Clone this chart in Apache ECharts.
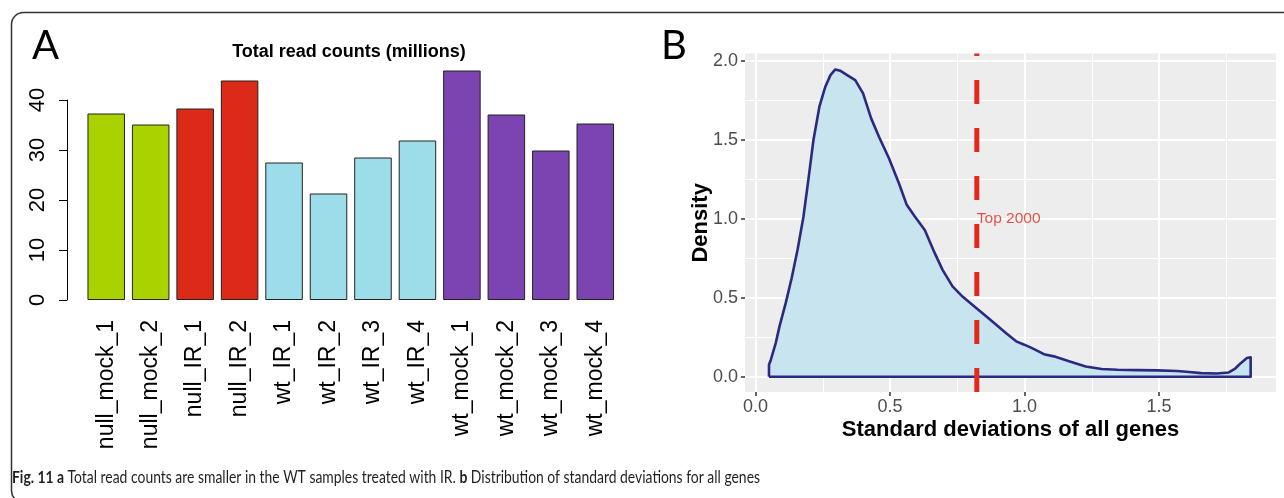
<!DOCTYPE html>
<html><head><meta charset="utf-8">
<script src="https://cdn.jsdelivr.net/npm/echarts@6/dist/echarts.min.js"></script>
<style>html,body{margin:0;padding:0;background:#fff}#c{width:1284px;height:498px}</style>
</head><body><div id="c"></div>
<script>
// ---------- Panel A data ----------
const sampleNames = ['null_mock_1','null_mock_2','null_IR_1','null_IR_2','wt_IR_1','wt_IR_2','wt_IR_3','wt_IR_4','wt_mock_1','wt_mock_2','wt_mock_3','wt_mock_4'];
const readCounts = [37.3, 35.1, 38.3, 43.9, 27.5, 21.3, 28.5, 31.9, 45.9, 37.1, 29.9, 35.3];
const sampleGroups = ['null_mock','null_mock','null_IR','null_IR','wt_IR','wt_IR','wt_IR','wt_IR','wt_mock','wt_mock','wt_mock','wt_mock'];
const groupColors = {null_mock:'#AAD200', null_IR:'#DD2A18', wt_IR:'#9CDDE9', wt_mock:'#7B44B0'};
const countTicks = [0, 10, 20, 30, 40];
const panelATitle = 'Total read counts (millions)';

// ---------- Panel B data ----------
const densityX = [0.049,0.049,0.056,0.074,0.088,0.111,0.133,0.155,0.177,0.195,0.214,0.236,0.258,0.277,0.295,0.313,0.339,0.369,0.398,0.428,0.457,0.494,0.531,0.560,0.590,0.627,0.664,0.693,0.730,0.767,0.811,0.848,0.892,0.929,0.966,0.996,1.025,1.069,1.106,1.165,1.224,1.283,1.342,1.416,1.490,1.563,1.608,1.652,1.711,1.755,1.777,1.799,1.822,1.836,1.836];
const densityY = [0,0.076,0.108,0.213,0.319,0.466,0.624,0.804,1.015,1.247,1.500,1.711,1.838,1.911,1.947,1.939,1.911,1.880,1.795,1.637,1.521,1.384,1.226,1.089,1.015,0.930,0.783,0.677,0.572,0.508,0.445,0.392,0.329,0.276,0.224,0.203,0.181,0.143,0.129,0.097,0.065,0.049,0.044,0.042,0.040,0.036,0.030,0.023,0.020,0.027,0.049,0.086,0.118,0.123,0];
const cutoffSD = 0.82;
const cutoffLabel = 'Top 2000';
const cutoffLabelY = 1.0;
const sdTicks = [0, 0.5, 1.0, 1.5];
const densityTicks = [0, 0.5, 1.0, 1.5, 2.0];
const xTitleB = 'Standard deviations of all genes';
const yTitleB = 'Density';
const captionBold1 = 'Fig. 11 a';
const captionText1 = ' Total read counts are smaller in the WT samples treated with IR. ';
const captionBold2 = 'b';
const captionText2 = ' Distribution of standard deviations for all genes';

// ---------- derived ----------
const densityPoints = densityX.map((x, i) => [x, densityY[i]]);
densityPoints.push([densityX[0], 0]); // close outline along baseline
const xMinB = -0.04, xMaxB = 1.93, yMinB = -0.0975, yMaxB = 2.0475;
const tickStepB = sdTicks[1] - sdTicks[0];

const FONT = '"Liberation Sans", Arial, sans-serif';
const CAPFONT = 'Lato, sans-serif';
const capSize = 17;
// condense the caption horizontally (the original uses a condensed face)
const cv = document.createElement('canvas').getContext('2d');
cv.font = 'bold ' + capSize + 'px Lato, sans-serif';
const wBold = cv.measureText(captionBold1 + captionBold2).width;
cv.font = capSize + 'px Lato, sans-serif';
const wReg = cv.measureText(captionText1 + captionText2).width;
const capScaleX = Math.min(1, 748 / (wBold + wReg));

const chart = echarts.init(document.getElementById('c'), null, {renderer: 'canvas'});

const option = {
  backgroundColor: '#ffffff',
  animation: false,
  grid: [
    {left: 84, top: 50, width: 533.5, height: 250, outerBoundsMode: 'none'},                 // 0 bars
    {left: 67, top: 100, width: 10, height: 200, outerBoundsMode: 'none'},                   // 1 bar y axis
    {left: 745, top: 53.6, width: 531, height: 338.5, show: true, backgroundColor: '#EDEDED', borderWidth: 0, outerBoundsMode: 'none'}, // 2 density panel
    {left: 745, top: 61.1, width: 531, height: 315.6, outerBoundsMode: 'none'},              // 3 y ticks
    {left: 755.5, top: 53.6, width: 538, height: 338.5, outerBoundsMode: 'none'}             // 4 x ticks
  ],
  xAxis: [
    {gridIndex: 0, type: 'category', data: sampleNames,
     axisLine: {show: false}, axisTick: {show: false},
     axisLabel: {interval: 0, rotate: 90, fontSize: 23, color: '#000', fontFamily: FONT, margin: 20}},
    {gridIndex: 1, type: 'value', show: false},
    {gridIndex: 2, type: 'value', min: xMinB, max: xMaxB, show: true,
     axisLine: {show: false}, axisTick: {show: false}, axisLabel: {show: false}, splitLine: {show: false},
     name: xTitleB, nameLocation: 'middle', nameGap: 27,
     nameTextStyle: {fontSize: 22, fontWeight: 'bold', color: '#000', fontFamily: FONT}},
    {gridIndex: 3, type: 'value', show: false, min: 0, max: 1},
    {gridIndex: 4, type: 'value', min: 0, max: 2, interval: tickStepB,
     axisLine: {show: false},
     axisTick: {show: true, length: 4, lineStyle: {color: '#333', width: 1.5}},
     axisLabel: {fontSize: 18, color: '#4D4D4D', fontFamily: FONT, margin: 6,
       formatter: v => (sdTicks.indexOf(v) >= 0 ? v.toFixed(1) : '')},
     splitLine: {show: true, lineStyle: {color: '#FFFFFF', width: 2.2}},
     minorTick: {show: false, splitNumber: 2},
     minorSplitLine: {show: true, lineStyle: {color: '#FFFFFF', width: 1.1}}}
  ],
  yAxis: [
    {gridIndex: 0, type: 'value', min: 0, max: 50, show: false},
    {gridIndex: 1, type: 'value', min: countTicks[0], max: countTicks[countTicks.length - 1], interval: countTicks[1] - countTicks[0],
     axisLine: {show: true, lineStyle: {color: '#000', width: 1}},
     axisTick: {show: true, length: 8, lineStyle: {color: '#000', width: 1}},
     axisLabel: {rotate: 90, fontSize: 22, color: '#000', fontFamily: FONT, margin: 18},
     splitLine: {show: false}},
    {gridIndex: 2, type: 'value', min: yMinB, max: yMaxB, show: true,
     axisLine: {show: false}, axisTick: {show: false}, axisLabel: {show: false}, splitLine: {show: false},
     name: yTitleB, nameLocation: 'middle', nameGap: 33, nameRotate: 90,
     nameTextStyle: {fontSize: 22, fontWeight: 'bold', color: '#000', fontFamily: FONT}},
    {gridIndex: 3, type: 'value', min: densityTicks[0], max: densityTicks[densityTicks.length - 1], interval: densityTicks[1] - densityTicks[0],
     axisLine: {show: false},
     axisTick: {show: true, length: 4, lineStyle: {color: '#333', width: 1.5}},
     axisLabel: {fontSize: 18, color: '#4D4D4D', fontFamily: FONT, margin: 7, formatter: v => v.toFixed(1)},
     splitLine: {show: true, lineStyle: {color: '#FFFFFF', width: 2.2}},
     minorTick: {show: false, splitNumber: 2},
     minorSplitLine: {show: true, lineStyle: {color: '#FFFFFF', width: 1.1}}},
    {gridIndex: 4, type: 'value', show: false, min: 0, max: 1}
  ],
  series: [
    {type: 'bar', xAxisIndex: 0, yAxisIndex: 0, barCategoryGap: '15.6%',
     data: readCounts.map((v, i) => ({value: v, itemStyle: {color: groupColors[sampleGroups[i]]}})),
     itemStyle: {borderColor: '#222', borderWidth: 1}},
    {type: 'line', xAxisIndex: 2, yAxisIndex: 2, data: densityPoints, symbol: 'none', smooth: false, z: 3,
     lineStyle: {color: '#2B2A80', width: 2.6, join: 'round'},
     areaStyle: {color: '#C7E4EF', opacity: 1}},
    {type: 'line', xAxisIndex: 2, yAxisIndex: 2, data: [[cutoffSD, yMinB], [cutoffSD, yMaxB]], symbol: 'none', z: 4,
     lineStyle: {color: '#E02A1B', width: 5, type: [24, 24], cap: 'butt'}},
    {type: 'scatter', xAxisIndex: 2, yAxisIndex: 2, data: [[cutoffSD, cutoffLabelY]], symbolSize: 0, z: 5,
     label: {show: true, position: 'right', distance: 0, formatter: cutoffLabel, color: '#E02A1B', fontSize: 15.5, fontFamily: FONT}}
  ],
  graphic: [
    {type: 'rect', left: 9, top: 10, shape: {width: 1300, height: 490, r: 12}, style: {fill: 'none', stroke: '#333', lineWidth: 1.5}, silent: true},
    {type: 'text', left: 32, top: 26, style: {text: 'A', fontSize: 40, fontFamily: 'Lato, sans-serif', fill: '#000'}},
    {type: 'text', left: 661, top: 26, style: {text: 'B', fontSize: 40, fontFamily: 'Lato, sans-serif', fill: '#000'}},
    {type: 'text', x: 349, y: 52, style: {text: panelATitle, fontSize: 18, fontWeight: 'bold', fontFamily: FONT, fill: '#000', align: 'center', verticalAlign: 'middle'}},
    {type: 'text', x: 12, y: 478, scaleX: capScaleX, originX: 0, originY: 0, style: {
      text: '{b|' + captionBold1 + '}' + captionText1 + '{b|' + captionBold2 + '}' + captionText2,
      fontSize: capSize, fontFamily: CAPFONT, fill: '#231F20', verticalAlign: 'middle',
      rich: {b: {fontWeight: 'bold', fontSize: capSize, fontFamily: CAPFONT, fill: '#231F20'}}}}
  ]
};
chart.setOption(option);
</script></body></html>
